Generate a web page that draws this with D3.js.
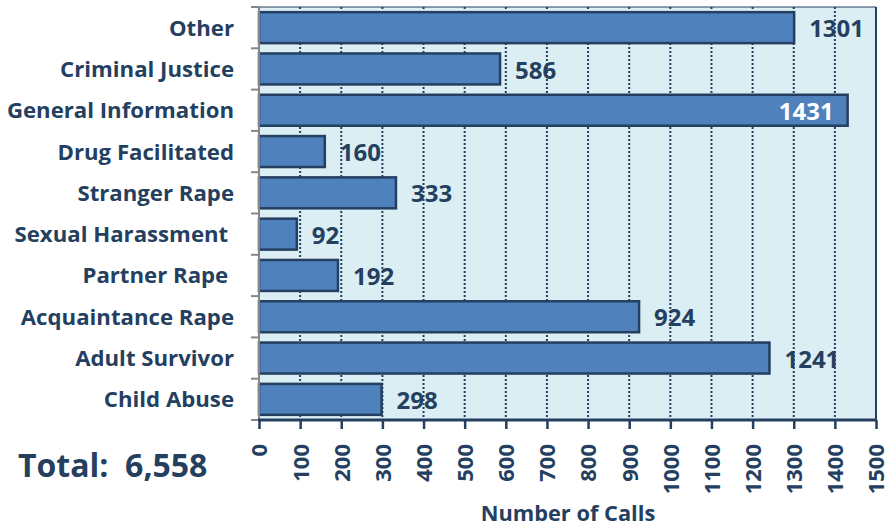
<!DOCTYPE html>
<html><head><meta charset="utf-8">
<script src="https://cdn.jsdelivr.net/npm/d3@7"></script>
<style>
html,body{margin:0;padding:0;background:#fff;}
svg{display:block;}
text{font-family:"Open Sans",sans-serif;font-weight:bold;white-space:pre;}
</style></head>
<body><svg id="c" width="889" height="527"></svg>
<script>
const categories = ["Other","Criminal Justice","General Information","Drug Facilitated","Stranger Rape","Sexual Harassment ","Partner Rape ","Acquaintance Rape","Adult Survivor","Child Abuse"];
const calls = [1301,586,1431,160,333,92,192,924,1241,298];
const xTicks = [0,100,200,300,400,500,600,700,800,900,1000,1100,1200,1300,1400,1500];
const totalLabel = "Total:  6,558";
const xTitle = "Number of Calls";

const navy = "#243F60";
const svg = d3.select("#c");
const L = 259, R = 876, T = 7, B = 420;
const x = d3.scaleLinear().domain([0,1500]).range([L,R]);
const y = d3.scaleBand().domain(categories).range([T,B]).paddingInner(0.25).paddingOuter(0.125);

svg.append("rect").attr("x",L).attr("y",T).attr("width",R-L).attr("height",B-T).attr("fill","#DBEEF3");

svg.append("g").selectAll("line").data(xTicks.filter(d=>d>0 && d<1500)).join("line")
  .attr("x1",d=>x(d)).attr("x2",d=>x(d)).attr("y1",T).attr("y2",B)
  .attr("stroke",navy).attr("stroke-width",2).attr("stroke-dasharray","2,2");

svg.append("line").attr("x1",L).attr("x2",R).attr("y1",T).attr("y2",T).attr("stroke",navy).attr("stroke-width",1);
svg.append("line").attr("x1",R).attr("x2",R).attr("y1",T).attr("y2",B).attr("stroke",navy).attr("stroke-width",2);

svg.append("g").selectAll("rect").data(categories).join("rect")
  .attr("x",x(0)).attr("y",d=>y(d)).attr("width",(d,i)=>x(calls[i])-x(0)).attr("height",y.bandwidth())
  .attr("fill","#4F81BD").attr("stroke",navy).attr("stroke-width",2.5);

const bounds = d3.range(categories.length+1).map(i=>T+i*(B-T)/categories.length);
svg.append("line").attr("x1",L).attr("x2",L).attr("y1",T).attr("y2",B).attr("stroke","#868686").attr("stroke-width",2);
svg.append("g").selectAll("line").data(bounds).join("line")
  .attr("x1",L-8).attr("x2",L).attr("y1",d=>d).attr("y2",d=>d).attr("stroke","#868686").attr("stroke-width",2);

svg.append("g").selectAll("text").data(categories).join("text")
  .attr("x",234).attr("y",d=>y(d)+y.bandwidth()/2).attr("dy","0.36em")
  .attr("text-anchor","end").attr("font-size",22.2).attr("fill",navy).text(d=>d);

const xAxis = d3.axisBottom(x).tickValues(xTicks).tickSize(9).tickPadding(0).tickFormat(d3.format("d"));
const gx = svg.append("g").attr("transform",`translate(0,${B})`).call(xAxis);
gx.select(".domain").attr("stroke",navy).attr("stroke-width",3).attr("d",`M${L-1},0H${R+1}`);
gx.selectAll(".tick line").attr("stroke",navy).attr("stroke-width",2.5);
gx.selectAll(".tick text").attr("fill",navy).attr("font-size",22).attr("font-family","'Open Sans', sans-serif").attr("font-weight","bold")
  .attr("text-anchor","end").attr("transform","translate(0,24) rotate(-90)").attr("x",0).attr("y",0).attr("dy","0.36em");

svg.append("g").selectAll("text").data(categories).join("text")
  .attr("font-size",24).attr("dy","0.36em")
  .attr("y",d=>y(d)+y.bandwidth()/2+1)
  .each(function(d,i){
    const v = calls[i];
    const inside = x(v)+15+50 > R;
    d3.select(this).attr("x", inside ? x(v)-14 : x(v)+15)
      .attr("text-anchor", inside ? "end" : "start")
      .attr("fill", inside ? "#fff" : navy).text(v);
  });

svg.append("text").attr("x",18).attr("y",477).attr("font-size",32).attr("fill",navy).text(totalLabel);
svg.append("text").attr("x",568).attr("y",521).attr("text-anchor","middle").attr("font-size",21.8).attr("fill",navy).text(xTitle);
</script></body></html>
